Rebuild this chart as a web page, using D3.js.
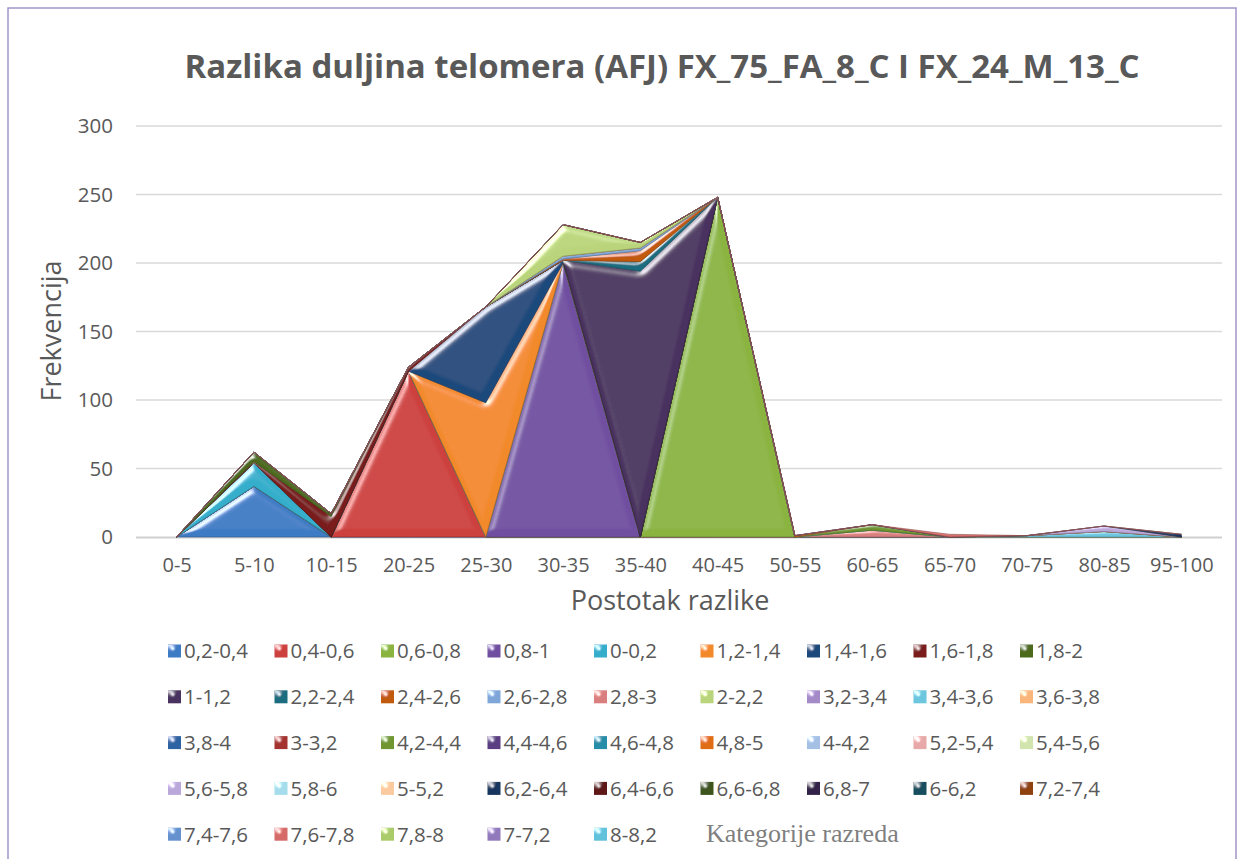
<!DOCTYPE html>
<html>
<head>
<meta charset="utf-8">
<script src="https://cdn.jsdelivr.net/npm/d3@7"></script>
<style>
  body { margin: 0; background: #fff; }
  text { font-family: "Open Sans", "Noto Sans", sans-serif; fill: #595959; }
</style>
</head>
<body>
<div id="chart"></div>
<script>
// categories on the x axis
let categories = ["0-5","5-10","10-15","20-25","25-30","30-35","35-40","40-45",
                  "50-55","60-65","65-70","70-75","80-85","95-100"];

// series names (legend order = stacking order, first at the bottom)
let seriesNames = ["0,2-0,4","0,4-0,6","0,6-0,8","0,8-1","0-0,2","1,2-1,4","1,4-1,6","1,6-1,8","1,8-2",
                   "1-1,2","2,2-2,4","2,4-2,6","2,6-2,8","2,8-3","2-2,2","3,2-3,4","3,4-3,6","3,6-3,8",
                   "3,8-4","3-3,2","4,2-4,4","4,4-4,6","4,6-4,8","4,8-5","4-4,2","5,2-5,4","5,4-5,6",
                   "5,6-5,8","5,8-6","5-5,2","6,2-6,4","6,4-6,6","6,6-6,8","6,8-7","6-6,2","7,2-7,4",
                   "7,4-7,6","7,6-7,8","7,8-8","7-7,2","8-8,2"];

// frequencies, one row per series, one column per category
let values = [
  [0,37,0,0,0,0,0,0,0,0,0,0,0,0],     // 0,2-0,4
  [0,0,0,121,0,0,0,0,0,0,0,0,0,0],    // 0,4-0,6
  [0,0,0,0,0,0,0,248,0,0,0,0,0,0],    // 0,6-0,8
  [0,0,0,0,0,200,0,0,0,0,0,0,0,0],    // 0,8-1
  [0,17,0,0,0,0,0,0,0,0,0,0,0,0],     // 0-0,2
  [0,0,0,0,98,0,0,0,0,0,0,0,0,0],     // 1,2-1,4
  [0,0,0,0,70,2,0,0,0,0,0,0,0,0],     // 1,4-1,6
  [0,1,15,3,0,0,0,0,0,0,0,0,0,0],     // 1,6-1,8
  [0,7,2,0,0,0,0,0,0,0,0,0,0,0],      // 1,8-2
  [0,0,0,0,0,0,194,0,0,0,0,0,0,0],    // 1-1,2
  [0,0,0,0,0,0,7,0,0,0,0,0,0,0],      // 2,2-2,4
  [0,0,0,0,0,1,8,0,0,0,0,0,0,0],      // 2,4-2,6
  [0,0,0,0,0,2,2,0,0,0,0,0,0,0],      // 2,6-2,8
  [0,0,0,0,0,0,0,0,0,5,0,0,0,0],      // 2,8-3
  [0,0,0,0,0,23,4,0,0,0,0,0,0,0],     // 2-2,2
  [0,0,0,0,0,0,0,0,0,0,0,0,0,0],      // 3,2-3,4
  [0,0,0,0,0,0,0,0,0,0,0,1,4,0],      // 3,4-3,6
  [0,0,0,0,0,0,0,0,0,0,0,0,0,0],      // 3,6-3,8
  [0,0,0,0,0,0,0,0,0,0,0,0,0,0],      // 3,8-4
  [0,0,0,0,0,0,0,0,0,0,0,0,0,0],      // 3-3,2
  [0,0,0,0,0,0,0,0,0,4,0,0,0,0],      // 4,2-4,4
  [0,0,0,0,0,0,0,0,0,0,0,0,0,0],      // 4,4-4,6
  [0,0,0,0,0,0,0,0,0,0,0,0,0,0],      // 4,6-4,8
  [0,0,0,0,0,0,0,0,1,0,0,0,0,0],      // 4,8-5
  [0,0,0,0,0,0,0,0,0,0,0,0,0,0],      // 4-4,2
  [0,0,0,0,0,0,0,0,0,0,0,0,0,0],      // 5,2-5,4
  [0,0,0,0,0,0,0,0,0,0,0,0,0,0],      // 5,4-5,6
  [0,0,0,0,0,0,0,0,0,0,0,0,4,0],      // 5,6-5,8
  [0,0,0,0,0,0,0,0,0,0,0,0,0,0],      // 5,8-6
  [0,0,0,0,0,0,0,0,0,0,0,0,0,0],      // 5-5,2
  [0,0,0,0,0,0,0,0,0,0,0,0,0,2],      // 6,2-6,4
  [0,0,0,0,0,0,0,0,0,0,0,0,0,0],      // 6,4-6,6
  [0,0,0,0,0,0,0,0,0,0,0,0,0,0],      // 6,6-6,8
  [0,0,0,0,0,0,0,0,0,0,0,0,0,0],      // 6,8-7
  [0,0,0,0,0,0,0,0,0,0,0,0,0,0],      // 6-6,2
  [0,0,0,0,0,0,0,0,0,0,0,0,0,0],      // 7,2-7,4
  [0,0,0,0,0,0,0,0,0,0,0,0,0,0],      // 7,4-7,6
  [0,0,0,0,0,0,0,0,0,0,2,0,0,0],      // 7,6-7,8
  [0,0,0,0,0,0,0,0,0,0,0,0,0,0],      // 7,8-8
  [0,0,0,0,0,0,0,0,0,0,0,0,0,0],      // 7-7,2
  [0,0,0,0,0,0,0,0,0,0,0,0,0,0]       // 8-8,2
];

let yTicks = [0,50,100,150,200,250,300];

// office palette: base, dark, light, darker, lighter, darkest, light
let colors = [
  "#3E7BC4","#CC3F3D","#8AB33F","#7150A0","#35AECB","#F2892A",
  "#1F4A7C","#7A1E1C","#4D6A1F","#48305F","#1B6C80","#C25A0E",
  "#7FA6D9","#D9807E","#B9D47A","#A48BC8","#6CC6DD","#F9B57A",
  "#2F64A3","#A4302E","#6F9630","#5A3E82","#278DA8","#E06D12",
  "#A5C0E5","#E6A9A8","#D2E4AE","#BBA8DA","#A5DDEC","#FBCB9F",
  "#16365F","#5E1615","#3E541A","#32224A","#134E5E","#8F430C",
  "#6592CF","#D56A68","#AACB6A","#9279BB","#62C2DB"
];

let width = 1244, height = 859;

let svg = d3.select("#chart").append("svg")
  .attr("width", width)
  .attr("height", height);

// bevel look of the excel areas: highlight only on the sloped edges
let defs = svg.append("defs");
let f = defs.append("filter").attr("id", "bevel")
  .attr("x", "-5%").attr("y", "-5%").attr("width", "110%").attr("height", "110%");
f.append("feGaussianBlur").attr("in", "SourceAlpha").attr("stdDeviation", 3.5).attr("result", "blur");
f.append("feSpecularLighting").attr("in", "blur").attr("surfaceScale", 5)
  .attr("specularConstant", 0.8).attr("specularExponent", 20)
  .attr("lighting-color", "#ffffff").attr("result", "spec")
  .append("feDistantLight").attr("azimuth", 235).attr("elevation", 22);
f.append("feComposite").attr("in", "spec").attr("in2", "SourceAlpha")
  .attr("operator", "in").attr("result", "specIn");
f.append("feComposite").attr("in", "SourceGraphic").attr("in2", "specIn")
  .attr("operator", "arithmetic").attr("k1", 0).attr("k2", 1).attr("k3", 1).attr("k4", 0);

let shadow = defs.append("filter").attr("id", "shadow")
  .attr("x", "-2%").attr("y", "-50%").attr("width", "104%").attr("height", "300%");
shadow.append("feGaussianBlur").attr("stdDeviation", 1.5);

// chart border
svg.append("rect")
  .attr("x", 8).attr("y", 8)
  .attr("width", 1228).attr("height", 900)
  .attr("fill", "none")
  .attr("stroke", "#A394C9")
  .attr("stroke-width", 1.5);

// title
svg.append("text")
  .attr("x", 662).attr("y", 78)
  .attr("text-anchor", "middle")
  .attr("textLength", 955)
  .attr("lengthAdjust", "spacingAndGlyphs")
  .style("font-size", "32px")
  .style("font-weight", "bold")
  .text("Razlika duljina telomera (AFJ) FX_75_FA_8_C I FX_24_M_13_C");

// scales
let xScale = d3.scalePoint().domain(categories).range([138, 1220]).padding(0.5);
let yScale = d3.scaleLinear().domain([0, 300]).range([537, 126]);

// gridlines
svg.append("g")
  .selectAll("line")
  .data(yTicks.slice(1))
  .enter()
  .append("line")
  .attr("x1", 136).attr("x2", 1222)
  .attr("y1", d => yScale(d)).attr("y2", d => yScale(d))
  .attr("stroke", "#D9D9D9")
  .attr("stroke-width", 1.3);

// y axis labels
let yAxis = d3.axisLeft(yScale).tickValues(yTicks).tickSize(0).tickPadding(23);
let gy = svg.append("g").attr("transform", "translate(136,0)").call(yAxis);
gy.select(".domain").remove();
gy.selectAll("text").style("font-size", "20.5px").attr("fill", "#595959");

// stacked areas
let table = categories.map((c, j) => {
  let row = { cat: c };
  seriesNames.forEach((s, i) => { row[s] = values[i][j]; });
  return row;
});
let stacked = d3.stack().keys(seriesNames)(table);

let area = d3.area()
  .x(d => xScale(d.data.cat))
  .y0(d => yScale(d[0]))
  .y1(d => yScale(d[1]));

// baseline with a soft shadow
svg.append("line")
  .attr("x1", 136).attr("x2", 1222)
  .attr("y1", 540).attr("y2", 540)
  .attr("stroke", "#BFBFBF").attr("stroke-width", 3)
  .attr("filter", "url(#shadow)");
svg.append("line")
  .attr("x1", 136).attr("x2", 1222)
  .attr("y1", 537.5).attr("y2", 537.5)
  .attr("stroke", "#D0D0D0").attr("stroke-width", 2);

svg.append("g")
  .selectAll("path")
  .data(stacked.filter(s => d3.sum(s, d => d[1] - d[0]) > 0))
  .enter()
  .append("path")
  .attr("d", area)
  .attr("fill", d => colors[d.index])
  .attr("stroke", d => d3.color(colors[d.index]).darker(1))
  .attr("stroke-width", 0.8)
  .attr("stroke-opacity", 0.8)
  .attr("filter", "url(#bevel)");

// x axis labels
let xAxis = d3.axisBottom(xScale).tickSize(0).tickPadding(21);
let gx = svg.append("g").attr("transform", "translate(0,537)").call(xAxis);
gx.select(".domain").remove();
gx.selectAll("text").style("font-size", "20px").attr("fill", "#595959");

// axis titles
svg.append("text")
  .attr("transform", "translate(61,331) rotate(-90)")
  .attr("text-anchor", "middle")
  .style("font-size", "27px")
  .text("Frekvencija");

svg.append("text")
  .attr("x", 670).attr("y", 610)
  .attr("text-anchor", "middle")
  .style("font-size", "27px")
  .text("Postotak razlike");

// legend, 9 per row
let legend = svg.append("g")
  .selectAll("g")
  .data(seriesNames)
  .enter()
  .append("g")
  .attr("transform", (d, i) => `translate(${168 + (i % 9) * 106.5},${651 + Math.floor(i / 9) * 45.8})`);

legend.append("rect")
  .attr("x", 0).attr("y", -6.5)
  .attr("width", 13).attr("height", 13)
  .attr("fill", (d, i) => colors[i])
  .attr("filter", "url(#bevel)");

legend.append("text")
  .attr("x", 16).attr("y", 0)
  .attr("dy", "0.36em")
  .style("font-size", "20.5px")
  .text(d => d);

svg.append("text")
  .attr("x", 706).attr("y", 842)
  .style("font-family", "'Liberation Serif', 'DejaVu Serif', serif")
  .style("font-size", "26px")
  .style("fill", "#7F7F7F")
  .text("Kategorije razreda");
</script>
</body>
</html>
